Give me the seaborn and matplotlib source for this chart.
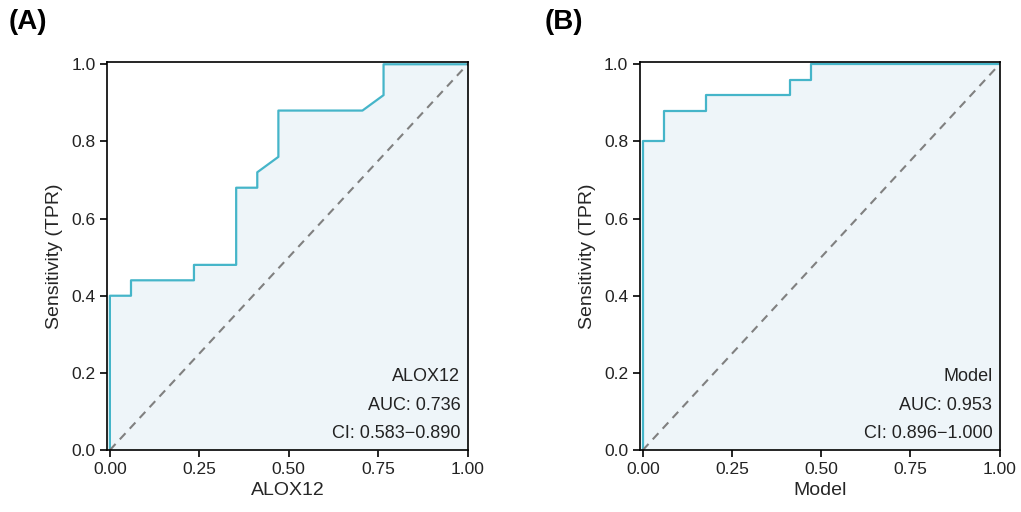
import numpy as np
import pandas as pd
import matplotlib
matplotlib.use("Agg")
import matplotlib.pyplot as plt
import seaborn as sns

# ROC points (FPR, TPR)
fpr_alox12 = [0.0, 0.0, 0.059, 0.059, 0.235, 0.235, 0.353, 0.353, 0.412, 0.412, 0.471, 0.471, 0.706, 0.765, 0.765, 1.0]
tpr_alox12 = [0.0, 0.40, 0.40, 0.44, 0.44, 0.48, 0.48, 0.68, 0.68, 0.72, 0.76, 0.88, 0.88, 0.92, 1.0, 1.0]

fpr_model = [0.0, 0.0, 0.059, 0.059, 0.176, 0.176, 0.412, 0.412, 0.471, 0.471, 1.0]
tpr_model = [0.0, 0.80, 0.80, 0.88, 0.88, 0.92, 0.92, 0.96, 0.96, 1.0, 1.0]

panels = ["(A)", "(B)"]
names = ["ALOX12", "Model"]
aucs = ["0.736", "0.953"]
cis = ["0.583\u22120.890", "0.896\u22121.000"]

sns.set_style("ticks")
plt.rcParams["font.family"] = ["Liberation Sans", "DejaVu Sans"]

line_col = "#45b5c9"
fill_col = "#eef5f9"

fig = plt.figure(figsize=(10.21, 5.12), dpi=100)
ax_a = fig.add_axes([0.105, 0.121, 0.353, 0.758])
ax_b = fig.add_axes([0.627, 0.121, 0.352, 0.758])

curves = [(fpr_alox12, tpr_alox12), (fpr_model, tpr_model)]
for i, ax in enumerate([ax_a, ax_b]):
    fpr, tpr = curves[i]
    df = pd.DataFrame({"fpr": fpr, "tpr": tpr})
    ax.fill_between(df["fpr"], df["tpr"], 0, color=fill_col, lw=0)
    sns.lineplot(data=df, x="fpr", y="tpr", sort=False, estimator=None,
                 color=line_col, lw=1.6, ax=ax)
    ax.plot([0, 1], [0, 1], ls=(0, (4, 3)), color="#808080", lw=1.5)
    ax.set_xlim(-0.0075, 1.0)
    ax.set_ylim(0, 1.006)
    ax.set_xticks([0, 0.25, 0.5, 0.75, 1.0])
    ax.set_xticklabels(["0.00", "0.25", "0.50", "0.75", "1.00"])
    ax.set_yticks([0, 0.2, 0.4, 0.6, 0.8, 1.0])
    ax.set_yticklabels(["0.0", "0.2", "0.4", "0.6", "0.8", "1.0"])
    ax.tick_params(labelsize=12.5, length=5, width=1.2, color="black", labelcolor="#222222")
    for s in ax.spines.values():
        s.set_linewidth(1.2)
        s.set_color("black")
    ax.set_xlabel(names[i], fontsize=14, labelpad=4)
    ax.set_ylabel("Sensitivity (TPR)", fontsize=14, labelpad=6)
    ax.text(0.98, 0.02, f"{names[i]}\nAUC: {aucs[i]}\nCI: {cis[i]}",
            transform=ax.transAxes, ha="right", va="bottom", fontsize=13,
            linespacing=1.9, color="#222222")

fig.text(0.008, 0.957, panels[0], fontsize=20, fontweight="bold", va="center", color="black")
fig.text(0.533, 0.957, panels[1], fontsize=20, fontweight="bold", va="center", color="black")

fig.savefig("out.png", dpi=100)
